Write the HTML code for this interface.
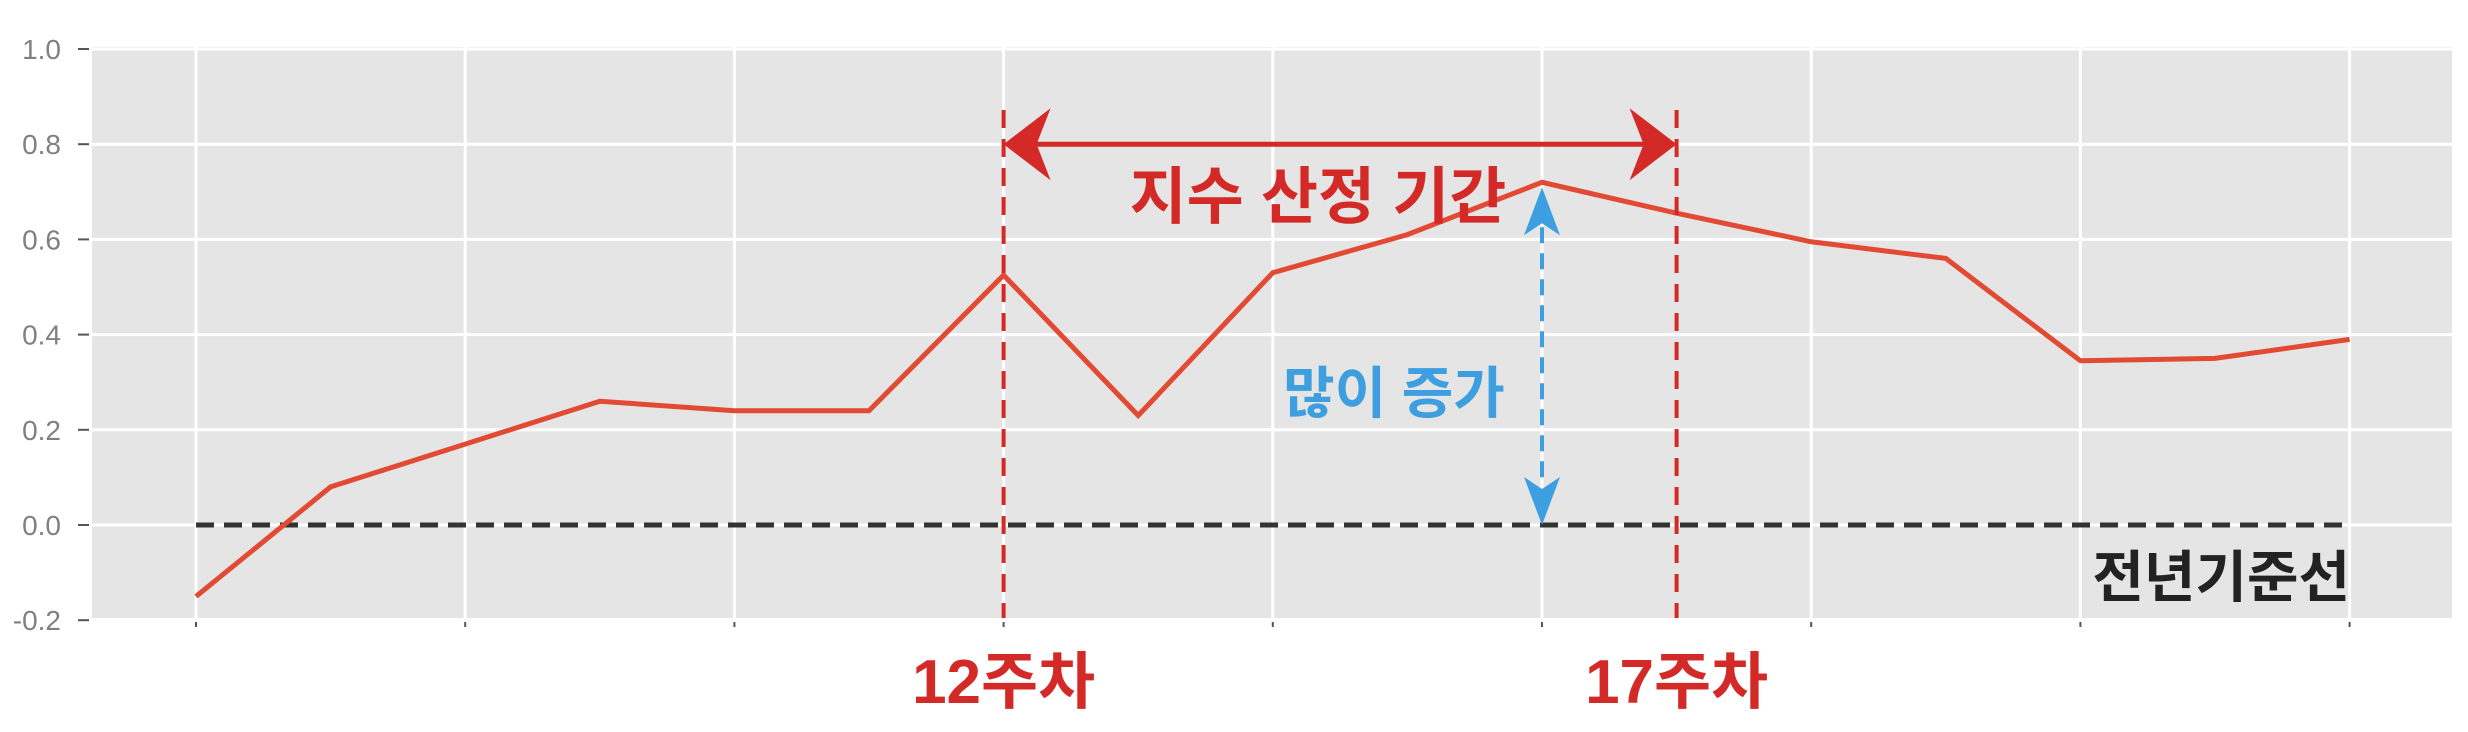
<!DOCTYPE html>
<html><head><meta charset="utf-8"><style>
html,body{margin:0;padding:0;background:#fff;}
svg{display:block;}
text{font-family:"Liberation Sans","Noto Sans CJK KR",sans-serif;}
</style></head><body>
<svg id="chart" width="2468" height="732" viewBox="0 0 2468 732" xmlns="http://www.w3.org/2000/svg">
<rect x="92" y="47" width="2360" height="571" fill="#e5e5e5"/>
<g id="grid"></g><g id="yaxis"></g><g id="xaxis"></g>
<g id="baseline"></g><g id="series"></g><g id="annot"></g>
</svg>
<script>
const weeks=[6,7,8,9,10,11,12,13,14,15,16,17,18,19,20,21,22];
const values=[-0.15,0.08,0.17,0.26,0.24,0.24,0.525,0.23,0.53,0.61,0.72,0.655,0.595,0.56,0.345,0.35,0.39];
const yTicks=[-0.2,0.0,0.2,0.4,0.6,0.8,1.0];
const yTickLabels=["-0.2","0.0","0.2","0.4","0.6","0.8","1.0"];
const periodStartWeek=12, periodEndWeek=17, peakWeek=16;

const NS="http://www.w3.org/2000/svg";
function X(w){return 196+(w-weeks[0])*134.6;}
function Y(v){return 525-v*476;}
function mk(tag,attrs,parent,txt){const e=document.createElementNS(NS,tag);for(const k in attrs)e.setAttribute(k,attrs[k]);if(txt!==undefined)e.textContent=txt;document.getElementById(parent).appendChild(e);return e;}

yTicks.forEach((v,i)=>{
  const g=mk('line',{x1:92,x2:2452,y1:Y(v),y2:Y(v),stroke:'#fff','stroke-width':3},'grid');
  
  
  const t=mk('line',{x1:78,x2:89,y1:Y(v),y2:Y(v),stroke:'#555','stroke-width':2},'yaxis');
  
  
  const l=mk('text',{x:61,y:Y(v)+10,'text-anchor':'end','font-size':28,fill:'#808080'},'yaxis',yTickLabels[i]);
  
  
});
weeks.forEach((w,i)=>{
  if(i%2!==0)return;
  const g=mk('line',{x1:X(w),x2:X(w),y1:47,y2:618,stroke:'#fff','stroke-width':3},'grid');
  
  
  const t=mk('line',{x1:X(w),x2:X(w),y1:622,y2:627,stroke:'#555','stroke-width':2},'xaxis');
  
  
});
const bl=mk('line',{x1:X(weeks[0]),x2:X(weeks[weeks.length-1]),y1:Y(0),y2:Y(0),stroke:'#333','stroke-width':5,'stroke-dasharray':'18 10'},'baseline');


const pl=mk('polyline',{points:weeks.map((w,i)=>X(w)+','+Y(values[i])).join(' '),fill:'none',stroke:'#e24a33','stroke-width':5},'series');



const red='#d42a27', blue='#3d9fe0';
[periodStartWeek,periodEndWeek].forEach(w=>{
  const v=mk('line',{x1:X(w),x2:X(w),y1:110,y2:618,stroke:red,'stroke-width':4,'stroke-dasharray':'18 11'},'annot');
  
  
});
const ax1=X(periodStartWeek), ax2=X(periodEndWeek), ay=Y(0.8);
const ha=mk('line',{x1:ax1+30,x2:ax2-30,y1:ay,y2:ay,stroke:red,'stroke-width':5},'annot');


const h1=mk('path',{d:`M${ax1},${ay} L${ax1+47},${ay-36} L${ax1+33},${ay} L${ax1+47},${ay+36}Z`,fill:red},'annot');


const h2=mk('path',{d:`M${ax2},${ay} L${ax2-47},${ay-36} L${ax2-33},${ay} L${ax2-47},${ay+36}Z`,fill:red},'annot');


const pt=mk('text',{x:1318,y:218,'text-anchor':'middle','font-size':62,'font-weight':'bold',fill:red},'annot','지수 산정 기간');



const bx=X(peakWeek), bTop=Y(values[weeks.indexOf(peakWeek)])+5, bBot=Y(0);
const bv=mk('line',{x1:bx,x2:bx,y1:bTop+40,y2:bBot-40,stroke:blue,'stroke-width':4,'stroke-dasharray':'16 10'},'annot');


const bu=mk('path',{d:`M${bx},${bTop} L${bx+18},${bTop+48} L${bx},${bTop+36} L${bx-18},${bTop+48}Z`,fill:blue},'annot');


const bd=mk('path',{d:`M${bx},${bBot} L${bx+18},${bBot-48} L${bx},${bBot-36} L${bx-18},${bBot-48}Z`,fill:blue},'annot');


const bt=mk('text',{x:1394,y:413,'text-anchor':'middle','font-size':56,'font-weight':'bold',fill:blue},'annot','많이 증가');



const w1=mk('text',{x:X(periodStartWeek),y:703,'text-anchor':'middle','font-size':62,'font-weight':'bold',fill:red},'annot','12주차');


const w2=mk('text',{x:X(periodEndWeek),y:703,'text-anchor':'middle','font-size':62,'font-weight':'bold',fill:red},'annot','17주차');


const bl2=mk('text',{x:2350,y:597,'text-anchor':'end','font-size':56,'font-weight':'bold',fill:'#222'},'annot','전년기준선');


</script>
</body></html>
